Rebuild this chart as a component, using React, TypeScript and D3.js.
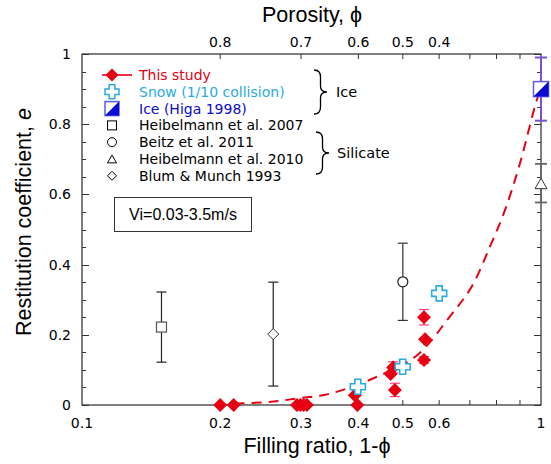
import React from "react";
import * as d3 from "d3";

// ---------- data ----------
const thisStudyF = [0.2, 0.214, 0.294, 0.299, 0.304, 0.309, 0.398, 0.393, 0.4805, 0.4705, 0.4763, 0.556, 0.559, 0.556];
const thisStudyE = [0, 0, 0, 0, 0, 0, 0, 0.028, 0.043, 0.088, 0.107, 0.128, 0.187, 0.25];
const thisStudyErr = [0, 0, 0, 0, 0, 0, 0, 0, 0.019, 0, 0.016, 0.01, 0, 0.022];

const snowF = [0.399, 0.4996, 0.6];
const snowE = [0.052, 0.109, 0.318];

const iceF = [1.0];
const iceE = [0.9];
const iceErr = [0.09];

const heib2007F = [0.149];
const heib2007E = [0.222];
const heib2007Err = [0.1];

const beitzF = [0.5];
const beitzE = [0.351];
const beitzErr = [0.11];

const heib2010F = [1.0];
const heib2010E = [0.632];
const heib2010Err = [0.055];

const blumF = [0.261];
const blumE = [0.202];
const blumErr = [0.148];

// dashed fit curve
const fitF = [0.215, 0.25, 0.27, 0.3, 0.335, 0.37, 0.44, 0.537, 0.633, 0.706, 0.774, 0.835, 0.9, 0.979, 1.0];
const fitE = [0.004, 0.008, 0.012, 0.02, 0.028, 0.043, 0.081, 0.142, 0.252, 0.337, 0.451, 0.556, 0.689, 0.869, 0.9];

const bottomTickLabels = [0.1, 0.2, 0.3, 0.4, 0.5, 0.6, 1];
const bottomMinorTicks = [0.2, 0.3, 0.4, 0.5, 0.6, 0.7, 0.8, 0.9];
const topTickLabels = [0.8, 0.7, 0.6, 0.5, 0.4];
const topMinorTicks = [0.8, 0.7, 0.6, 0.5, 0.4, 0.3, 0.2, 0.1];
const yTickLabels = [0, 0.2, 0.4, 0.6, 0.8, 1];

const legendLabels = [
  "This study",
  "Snow (1/10 collision)",
  "Ice (Higa 1998)",
  "Heibelmann et al. 2007",
  "Beitz et al. 2011",
  "Heibelmann et al. 2010",
  "Blum & Munch 1993",
];

// ---------- styles ----------
const FONT = "'Liberation Sans', Arial, Helvetica, sans-serif";
const FONT2 = "'DejaVu Sans', Verdana, sans-serif";
const RED = "#e60012";
const PINK = "#ff3d7f";
const CYAN = "#29abe2";
const BLUE = "#0a0ad2";
const PURPLE = "#7b4fd6";

const L = 82, R = 541, T = 54, B = 405;

const x = d3.scaleLog().domain([0.1, 1]).range([L, R]);
const y = d3.scaleLinear().domain([0, 1]).range([B, T]);

const diamond = (cx: number, cy: number, r: number) =>
  `M${cx},${cy - r}L${cx + r},${cy}L${cx},${cy + r}L${cx - r},${cy}Z`;

const crossPath = (cx: number, cy: number, s: number, a: number) =>
  `M${cx - a},${cy - s}H${cx + a}V${cy - a}H${cx + s}V${cy + a}H${cx + a}V${cy + s}H${cx - a}V${cy + a}H${cx - s}V${cy - a}H${cx - a}Z`;

const triangle = (cx: number, cy: number, s: number) =>
  `M${cx},${cy - s}L${cx + s},${cy + s * 0.75}L${cx - s},${cy + s * 0.75}Z`;

const brace = (x0: number, y0: number, y1: number, w: number) => {
  const ym = (y0 + y1) / 2;
  const xm = x0 + w / 2;
  return `M${x0},${y0} Q${xm},${y0} ${xm},${y0 + 7} L${xm},${ym - 6} Q${xm},${ym} ${x0 + w},${ym} Q${xm},${ym} ${xm},${ym + 6} L${xm},${y1 - 7} Q${xm},${y1} ${x0},${y1}`;
};

function ErrBar({ fx, e, err, color, cap = 5, w = 1.2 }: any) {
  if (!err) return null;
  const cx = x(fx);
  const y1 = y(e + err), y2 = y(e - err);
  return (
    <g stroke={color} strokeWidth={w}>
      <line x1={cx} x2={cx} y1={y1} y2={y2} />
      <line x1={cx - cap} x2={cx + cap} y1={y1} y2={y1} />
      <line x1={cx - cap} x2={cx + cap} y1={y2} y2={y2} />
    </g>
  );
}

function IceMarker({ cx, cy, s }: any) {
  return (
    <g>
      <rect x={cx - s} y={cy - s} width={2 * s} height={2 * s} fill="#fff" stroke="#5b5bf0" strokeWidth={1.5} />
      <path d={`M${cx + s},${cy - s}L${cx + s},${cy + s}L${cx - s},${cy + s}Z`} fill={BLUE} />
    </g>
  );
}

export default function App() {
  const fitLine = d3
    .line<number>()
    .x((_, i) => x(fitF[i]))
    .y((d) => y(d))
    .curve(d3.curveCatmullRom.alpha(0.5));

  const yMinor = d3.range(0, 1.0001, 0.05);
  const legX = 112, legText = 139, legY0 = 75, legDy = 16.8;

  return (
    <svg width={551} height={464} style={{ position: "absolute", left: 0, top: 0, background: "#fff" }} fontFamily={FONT}>
      {/* frame */}
      <rect x={L} y={T} width={R - L} height={B - T} fill="none" stroke="#000" strokeWidth={1} />

      {/* y ticks left and right */}
      {yMinor.map((v, i) => {
        const major = i % 4 === 0;
        const len = major ? 7 : 4;
        const yy = Math.round(y(v)) + 0.5;
        return (
          <g key={"yt" + i} stroke="#333" strokeWidth={1}>
            <line x1={L} x2={L + len} y1={yy} y2={yy} />
            <line x1={R} x2={R - len} y1={yy} y2={yy} />
          </g>
        );
      })}
      {yTickLabels.map((v) => (
        <text key={"yl" + v} x={71} y={y(v) + 5} fontSize={14} textAnchor="end" fill="#000" fontFamily={FONT2}>
          {String(v)}
        </text>
      ))}

      {/* bottom ticks */}
      {bottomMinorTicks.map((v) => (
        <line key={"bt" + v} x1={x(v)} x2={x(v)} y1={B} y2={B - 5} stroke="#333" />
      ))}
      {bottomTickLabels.map((v) => (
        <text key={"bl" + v} x={x(v)} y={428} fontSize={14} textAnchor="middle" fill="#000" fontFamily={FONT2}>
          {String(v)}
        </text>
      ))}

      {/* top ticks (porosity) */}
      {topMinorTicks.map((p) => (
        <line key={"tt" + p} x1={x(1 - p)} x2={x(1 - p)} y1={T} y2={T + 5} stroke="#333" />
      ))}
      {topTickLabels.map((p) => (
        <text key={"tl" + p} x={x(1 - p)} y={47} fontSize={14} textAnchor="middle" fill="#000" fontFamily={FONT2}>
          {String(p)}
        </text>
      ))}

      {/* axis titles */}
      <text x={312} y={22} fontSize={21.5} textAnchor="middle" fill="#000">
        Porosity, ϕ
      </text>
      <text x={317} y={453} fontSize={21.5} textAnchor="middle" fill="#000">
        Filling ratio, 1-ϕ
      </text>
      <text transform={`translate(31,222) rotate(-90)`} fontSize={21.5} textAnchor="middle" fill="#000">
        Restitution coefficient, <tspan fontStyle="italic">e</tspan>
      </text>

      {/* fit curve */}
      <path d={fitLine(fitE) || ""} fill="none" stroke={RED} strokeWidth={2} strokeDasharray="10,7" />

      {/* error bars */}
      {heib2007F.map((f, i) => (
        <ErrBar key={"h7e" + i} fx={f} e={heib2007E[i]} err={heib2007Err[i]} color="#222" />
      ))}
      {blumF.map((f, i) => (
        <ErrBar key={"be" + i} fx={f} e={blumE[i]} err={blumErr[i]} color="#222" />
      ))}
      {beitzF.map((f, i) => (
        <ErrBar key={"bze" + i} fx={f} e={beitzE[i]} err={beitzErr[i]} color="#333" />
      ))}
      {heib2010F.map((f, i) => (
        <ErrBar key={"h10e" + i} fx={f} e={heib2010E[i]} err={heib2010Err[i]} color="#666" w={1.8} cap={6} />
      ))}
      {iceF.map((f, i) => (
        <ErrBar key={"ie" + i} fx={f} e={iceE[i]} err={iceErr[i]} color={PURPLE} w={2} cap={6} />
      ))}
      {thisStudyF.map((f, i) => (
        <ErrBar key={"tse" + i} fx={f} e={thisStudyE[i]} err={thisStudyErr[i]} color={PINK} cap={5} />
      ))}

      {/* markers */}
      {heib2007F.map((f, i) => (
        <rect key={"h7" + i} x={x(f) - 5} y={y(heib2007E[i]) - 5} width={10} height={10} fill="#fff" stroke="#555" strokeWidth={1.2} />
      ))}
      {blumF.map((f, i) => (
        <path key={"bm" + i} d={diamond(x(f), y(blumE[i]), 5.5)} fill="#fff" stroke="#333" strokeWidth={1} />
      ))}
      {beitzF.map((f, i) => (
        <circle key={"bz" + i} cx={x(f)} cy={y(beitzE[i])} r={5} fill="#fff" stroke="#222" strokeWidth={1.2} />
      ))}
      {heib2010F.map((f, i) => (
        <path key={"h10" + i} d={triangle(x(f), y(heib2010E[i]) + 1, 6)} fill="#fff" stroke="#333" strokeWidth={1} />
      ))}
      {thisStudyF.map((f, i) => (
        <path key={"ts" + i} d={diamond(x(f), y(thisStudyE[i]), 7)} fill={RED} />
      ))}
      {snowF.map((f, i) => (
        <path key={"sn" + i} d={crossPath(x(f), y(snowE[i]), 7.5, 3)} fill="#fff" stroke={CYAN} strokeWidth={1.6} />
      ))}
      {iceF.map((f, i) => (
        <IceMarker key={"ic" + i} cx={x(f)} cy={y(iceE[i])} s={7.5} />
      ))}

      {/* legend */}
      <g>
        <line x1={102} x2={132} y1={legY0} y2={legY0} stroke={RED} strokeWidth={1.6} />
        <path d={diamond(legX, legY0, 6.5)} fill={RED} />
        <path d={crossPath(legX, legY0 + legDy, 7, 2.8)} fill="#fff" stroke={CYAN} strokeWidth={1.5} />
        <IceMarker cx={legX} cy={legY0 + 2 * legDy} s={7} />
        <rect x={legX - 4.5} y={legY0 + 3 * legDy - 4.5} width={9} height={9} fill="#fff" stroke="#000" strokeWidth={1} />
        <circle cx={legX} cy={legY0 + 4 * legDy} r={4.5} fill="#fff" stroke="#000" strokeWidth={1} />
        <path d={triangle(legX, legY0 + 5 * legDy + 0.5, 4.5)} fill="#fff" stroke="#000" strokeWidth={1} />
        <path d={diamond(legX, legY0 + 6 * legDy, 4.5)} fill="#fff" stroke="#000" strokeWidth={1} />
        {legendLabels.map((t, i) => (
          <text
            key={"lg" + i}
            x={legText}
            y={legY0 + i * legDy + 5}
            fontSize={14}
            fontFamily={FONT2}
            fill={i === 0 ? RED : i === 1 ? CYAN : i === 2 ? BLUE : "#000"}
          >
            {t}
          </text>
        ))}
        <path d={brace(314, 70, 114, 13)} fill="none" stroke="#000" strokeWidth={1.3} />
        <text x={336} y={97} fontSize={14.5} fontFamily={FONT2} fill="#000">Ice</text>
        <path d={brace(316, 132, 174, 13)} fill="none" stroke="#000" strokeWidth={1.3} />
        <text x={337} y={158} fontSize={14.5} fontFamily={FONT2} fill="#000">Silicate</text>
      </g>

      {/* velocity box */}
      <rect x={114.5} y={197.5} width={137} height={34} fill="#fff" stroke="#333" strokeWidth={1} />
      <text x={183} y={220} fontSize={16} textAnchor="middle" fill="#000">
        Vi=0.03-3.5m/s
      </text>
    </svg>
  );
}
